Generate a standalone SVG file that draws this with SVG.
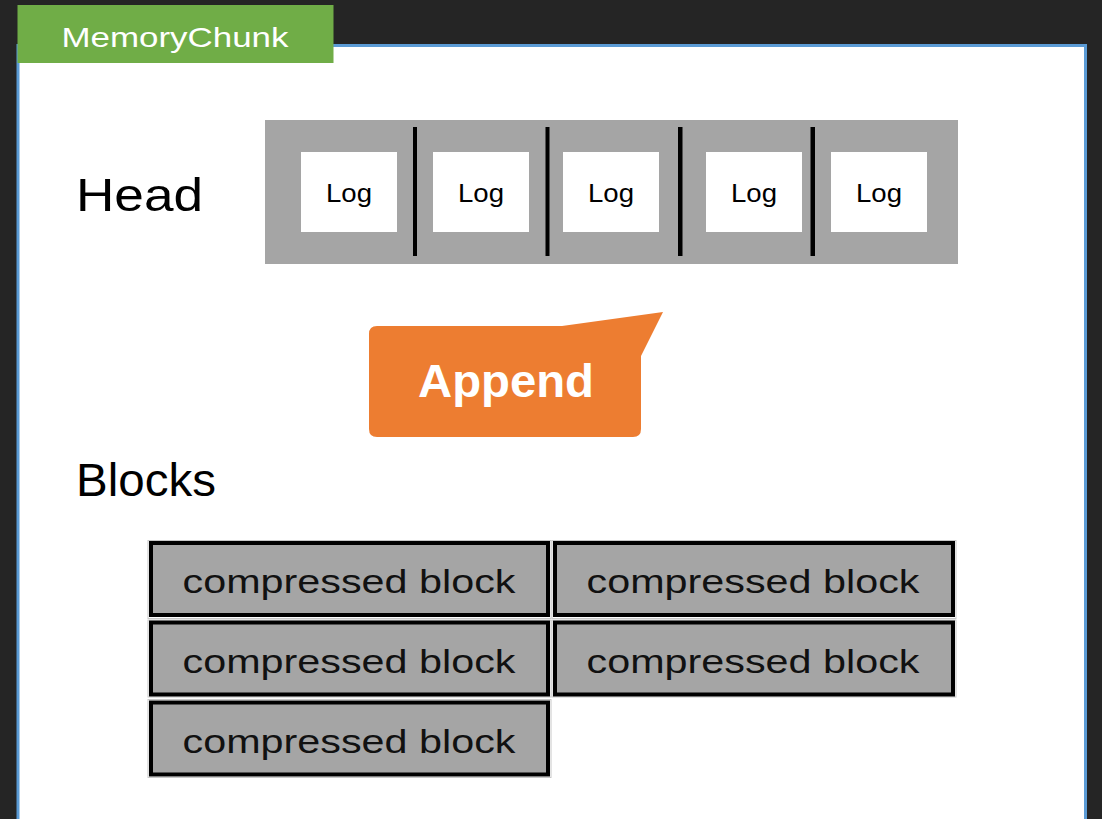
<svg xmlns="http://www.w3.org/2000/svg" width="1102" height="819" viewBox="0 0 1102 819">
<style>
.t{font-family:"Liberation Sans",Arial,sans-serif;}
.log{fill:#fff;}
.logt{font-size:25px;fill:#000;text-anchor:middle;}
.div{fill:#000;}
.blk{fill:#A5A5A5;stroke:#000;stroke-width:4;}
.blko{fill:none;stroke:#C8C8C8;stroke-width:1;}
.blkt{font-size:34px;fill:#111;text-anchor:middle;}
.lbl{font-size:46px;fill:#000;}
</style>
<rect x="0" y="0" width="1102" height="819" fill="#252525"/>
<g id="panel">
<rect x="18" y="45.5" width="1067.5" height="790" fill="#fff" stroke="#5B9BD5" stroke-width="3"/>
</g>
<g id="tab">
<rect x="17.5" y="5" width="316" height="58" fill="#70AD47"/>
<text class="t" x="175" y="47" font-size="28" fill="#fff" text-anchor="middle" textLength="227" lengthAdjust="spacingAndGlyphs">MemoryChunk</text>
</g>
<g id="head-label">
<text class="t lbl" x="76" y="211" textLength="127" lengthAdjust="spacingAndGlyphs">Head</text>
</g>
<g id="head">
<rect x="265" y="120" width="693" height="144" fill="#A5A5A5"/>
<rect class="div" x="413" y="127" width="4" height="129"/>
<rect class="div" x="545.5" y="127" width="4" height="129"/>
<rect class="div" x="678" y="127" width="4.5" height="129"/>
<rect class="div" x="810.5" y="127" width="4.5" height="129"/>
<g id="log1"><rect class="log" x="301" y="152" width="96" height="80"/><text class="t logt" x="349" y="202" textLength="46" lengthAdjust="spacingAndGlyphs">Log</text></g>
<g id="log2"><rect class="log" x="433" y="152" width="96" height="80"/><text class="t logt" x="481" y="202" textLength="46" lengthAdjust="spacingAndGlyphs">Log</text></g>
<g id="log3"><rect class="log" x="563" y="152" width="96" height="80"/><text class="t logt" x="611" y="202" textLength="46" lengthAdjust="spacingAndGlyphs">Log</text></g>
<g id="log4"><rect class="log" x="706" y="152" width="96" height="80"/><text class="t logt" x="754" y="202" textLength="46" lengthAdjust="spacingAndGlyphs">Log</text></g>
<g id="log5"><rect class="log" x="831" y="152" width="96" height="80"/><text class="t logt" x="879" y="202" textLength="46" lengthAdjust="spacingAndGlyphs">Log</text></g>
</g>
<g id="append">
<path d="M377,326 L562,326 L663,312 L641,356 L641,429 Q641,437 633,437 L377,437 Q369,437 369,429 L369,334 Q369,326 377,326 Z" fill="#ED7D31"/>
<text class="t" x="506" y="397" font-size="46" font-weight="bold" fill="#fff" text-anchor="middle" textLength="176" lengthAdjust="spacingAndGlyphs">Append</text>
</g>
<g id="blocks-label">
<text class="t lbl" x="76" y="496" textLength="140" lengthAdjust="spacingAndGlyphs">Blocks</text>
</g>
<g id="block1"><rect class="blko" x="148" y="540.5" width="403" height="78"/><rect class="blk" x="151" y="543" width="397" height="72"/><text class="t blkt" x="349" y="593" textLength="333" lengthAdjust="spacingAndGlyphs">compressed block</text></g>
<g id="block2"><rect class="blko" x="552" y="540.5" width="404" height="78"/><rect class="blk" x="555" y="543" width="398" height="72"/><text class="t blkt" x="753" y="593" textLength="333" lengthAdjust="spacingAndGlyphs">compressed block</text></g>
<g id="block3"><rect class="blko" x="148" y="620" width="403" height="77"/><rect class="blk" x="151" y="622.5" width="397" height="72"/><text class="t blkt" x="349" y="673" textLength="333" lengthAdjust="spacingAndGlyphs">compressed block</text></g>
<g id="block4"><rect class="blko" x="552" y="620" width="404" height="77"/><rect class="blk" x="555" y="622.5" width="398" height="72"/><text class="t blkt" x="753" y="673" textLength="333" lengthAdjust="spacingAndGlyphs">compressed block</text></g>
<g id="block5"><rect class="blko" x="148" y="699.5" width="403" height="78"/><rect class="blk" x="151" y="702.5" width="397" height="72"/><text class="t blkt" x="349" y="753" textLength="333" lengthAdjust="spacingAndGlyphs">compressed block</text></g>
<g id="connectors"/>
</svg>
